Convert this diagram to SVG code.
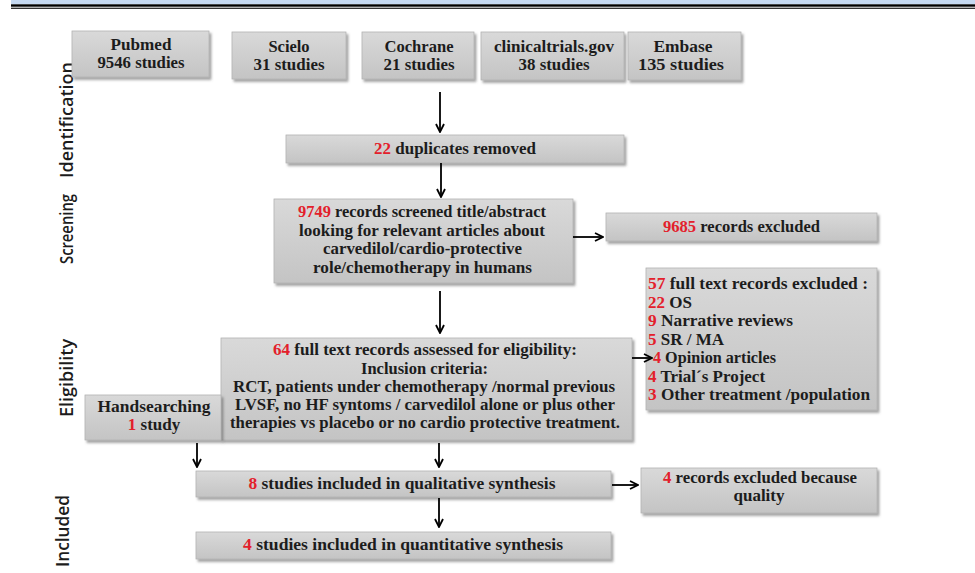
<svg xmlns="http://www.w3.org/2000/svg" width="975" height="573" viewBox="0 0 975 573">
<defs>
  <linearGradient id="gf" x1="0" y1="0" x2="0" y2="1">
    <stop offset="0" stop-color="#d9d9d9"/>
    <stop offset="1" stop-color="#c4c4c4"/>
  </linearGradient>
  <filter id="sh" x="-10%" y="-20%" width="120%" height="150%">
    <feDropShadow dx="2" dy="2.5" stdDeviation="1.3" flood-color="#555" flood-opacity="0.55"/>
  </filter>
  <marker id="ah" viewBox="0 0 10 10" refX="9" refY="5" markerWidth="10" markerHeight="10" markerUnits="userSpaceOnUse" orient="auto">
    <path d="M1,1 L9,5 L1,9" fill="none" stroke="#000" stroke-width="1.8"/>
  </marker>
</defs>
<style>
  .box { fill: url(#gf); stroke: #b3b3b3; stroke-width: 0.8; filter: url(#sh); }
  .t { font-family: "Liberation Serif", "Times New Roman", serif; font-weight: bold; font-size: 17px; fill: #1c1c1c; }
  .src { font-size: 16.5px; }
  .c { text-anchor: middle; }
  .r { fill: #e3202b; }
  .lbl { font-family: "Open Sans", "Noto Sans", "DejaVu Sans", sans-serif; font-weight: 600; font-size: 18px; fill: #1c1c1c; text-anchor: middle; }
  .con { stroke: #000; stroke-width: 1.8; fill: none; marker-end: url(#ah); }
</style>

<!-- header band -->
<rect x="11" y="0" width="964" height="4.3" fill="#c6d9f1"/>
<rect x="11" y="4.3" width="964" height="2.4" fill="#000"/>
<rect x="11" y="7.7" width="964" height="1.1" fill="#000"/>

<!-- stage labels -->
<g id="stage-labels">
  <text class="lbl" transform="translate(73,120) rotate(-90)" textLength="116" lengthAdjust="spacingAndGlyphs">Identification</text>
  <text class="lbl" transform="translate(73,229) rotate(-90)" textLength="70" lengthAdjust="spacingAndGlyphs">Screening</text>
  <text class="lbl" transform="translate(73,378) rotate(-90)" textLength="78" lengthAdjust="spacingAndGlyphs">Eligibility</text>
  <text class="lbl" transform="translate(69,531) rotate(-90)" textLength="72" lengthAdjust="spacingAndGlyphs">Included</text>
</g>

<g id="pubmed">
  <rect class="box" x="72" y="31" width="137" height="46"/>
  <text class="t src c" x="141" y="49.5" textLength="61" lengthAdjust="spacingAndGlyphs">Pubmed</text>
  <text class="t src c" x="141" y="68" textLength="87" lengthAdjust="spacingAndGlyphs">9546 studies</text>
</g>
<g id="scielo">
  <rect class="box" x="232" y="32" width="114" height="47"/>
  <text class="t src c" x="289" y="51.5">Scielo</text>
  <text class="t src c" x="289" y="70" textLength="71" lengthAdjust="spacingAndGlyphs">31 studies</text>
</g>
<g id="cochrane">
  <rect class="box" x="362" y="32" width="112" height="47"/>
  <text class="t src c" x="419" y="51.5" textLength="69" lengthAdjust="spacingAndGlyphs">Cochrane</text>
  <text class="t src c" x="419" y="70" textLength="71" lengthAdjust="spacingAndGlyphs">21 studies</text>
</g>
<g id="clinicaltrials">
  <rect class="box" x="481" y="32" width="143" height="48"/>
  <text class="t src c" x="554" y="51.5" textLength="120" lengthAdjust="spacingAndGlyphs">clinicaltrials.gov</text>
  <text class="t src c" x="554" y="70" textLength="71" lengthAdjust="spacingAndGlyphs">38 studies</text>
</g>
<g id="embase">
  <rect class="box" x="628" y="32" width="113" height="48"/>
  <text class="t src c" x="683" y="51.5" textLength="59" lengthAdjust="spacingAndGlyphs">Embase</text>
  <text class="t src c" x="681" y="70" textLength="86" lengthAdjust="spacingAndGlyphs">135 studies</text>
</g>

<g id="duplicates">
  <rect class="box" x="286" y="135" width="338" height="28"/>
  <text class="t c" x="455" y="154" textLength="162" lengthAdjust="spacingAndGlyphs"><tspan class="r">22</tspan> duplicates removed</text>
</g>

<g id="screened">
  <rect class="box" x="274" y="199" width="299" height="84"/>
  <text class="t c" x="422" y="217" textLength="248" lengthAdjust="spacingAndGlyphs"><tspan class="r">9749</tspan> records screened title/abstract</text>
  <text class="t c" x="422" y="235.5" textLength="246" lengthAdjust="spacingAndGlyphs">looking for relevant articles about</text>
  <text class="t c" x="422.5" y="254" textLength="199" lengthAdjust="spacingAndGlyphs">carvedilol/cardio-protective</text>
  <text class="t c" x="422.5" y="272.5" textLength="219" lengthAdjust="spacingAndGlyphs">role/chemotherapy in humans</text>
</g>

<g id="excluded-screening">
  <rect class="box" x="606" y="213" width="271" height="28"/>
  <text class="t c" x="741.5" y="231.5" textLength="157" lengthAdjust="spacingAndGlyphs"><tspan class="r">9685</tspan> records excluded</text>
</g>

<g id="excluded-fulltext">
  <rect class="box" x="646" y="268" width="231" height="142"/>
  <text class="t" x="648" y="289" textLength="220" lengthAdjust="spacingAndGlyphs"><tspan class="r">57</tspan>  full text records excluded :</text>
  <text class="t" x="648" y="307.5"><tspan class="r">22</tspan> OS</text>
  <text class="t" x="648" y="326" textLength="145" lengthAdjust="spacingAndGlyphs"><tspan class="r">9</tspan> Narrative reviews</text>
  <text class="t" x="648" y="344.5"><tspan class="r">5</tspan> SR / MA</text>
  <text class="t" x="653" y="363" textLength="123" lengthAdjust="spacingAndGlyphs"><tspan class="r">4</tspan> Opinion articles</text>
  <text class="t" x="648" y="381.5"><tspan class="r">4</tspan> Trial´s Project</text>
  <text class="t" x="648" y="400" textLength="222" lengthAdjust="spacingAndGlyphs"><tspan class="r">3</tspan> Other treatment /population</text>
</g>

<g id="eligibility">
  <rect class="box" x="221" y="338" width="411" height="102"/>
  <text class="t c" x="425" y="355" textLength="304" lengthAdjust="spacingAndGlyphs"><tspan class="r">64</tspan> full text records assessed for eligibility:</text>
  <text class="t c" x="424.5" y="373.5" textLength="127" lengthAdjust="spacingAndGlyphs">Inclusion criteria:</text>
  <text class="t c" x="424" y="392" textLength="382" lengthAdjust="spacingAndGlyphs">RCT, patients under chemotherapy /normal  previous</text>
  <text class="t c" x="425" y="410" textLength="380" lengthAdjust="spacingAndGlyphs">LVSF, no HF syntoms / carvedilol alone or plus other</text>
  <text class="t c" x="425" y="428" textLength="390" lengthAdjust="spacingAndGlyphs">therapies vs placebo or no cardio protective treatment.</text>
</g>

<g id="handsearching">
  <rect class="box" x="85" y="395" width="136" height="45"/>
  <text class="t c" x="154" y="412" textLength="113" lengthAdjust="spacingAndGlyphs">Handsearching</text>
  <text class="t c" x="154" y="430"><tspan class="r">1</tspan> study</text>
</g>

<g id="qualitative">
  <rect class="box" x="196" y="471" width="415" height="26"/>
  <text class="t c" x="402" y="488.5" textLength="307" lengthAdjust="spacingAndGlyphs"><tspan class="r">8</tspan> studies included in qualitative  synthesis</text>
</g>

<g id="quantitative">
  <rect class="box" x="196" y="532" width="415" height="27"/>
  <text class="t c" x="403" y="549.5" textLength="320" lengthAdjust="spacingAndGlyphs"><tspan class="r">4</tspan> studies included in quantitative  synthesis</text>
</g>

<g id="excluded-quality">
  <rect class="box" x="641" y="468" width="236" height="45"/>
  <text class="t c" x="760" y="482.5" textLength="194" lengthAdjust="spacingAndGlyphs"><tspan class="r">4</tspan> records excluded because</text>
  <text class="t c" x="759" y="501">quality</text>
</g>

<g id="connectors">
  <line class="con" x1="440" y1="92" x2="440" y2="132"/>
  <line class="con" x1="441" y1="163" x2="441" y2="197"/>
  <line class="con" x1="573" y1="237" x2="603" y2="237"/>
  <line class="con" x1="440" y1="291" x2="440" y2="333"/>
  <line class="con" x1="632" y1="358" x2="652" y2="358"/>
  <line class="con" x1="197" y1="443" x2="197" y2="467"/>
  <line class="con" x1="439" y1="443" x2="439" y2="467"/>
  <line class="con" x1="439" y1="498" x2="439" y2="527"/>
  <line class="con" x1="612" y1="485" x2="638" y2="485"/>
</g>
</svg>
